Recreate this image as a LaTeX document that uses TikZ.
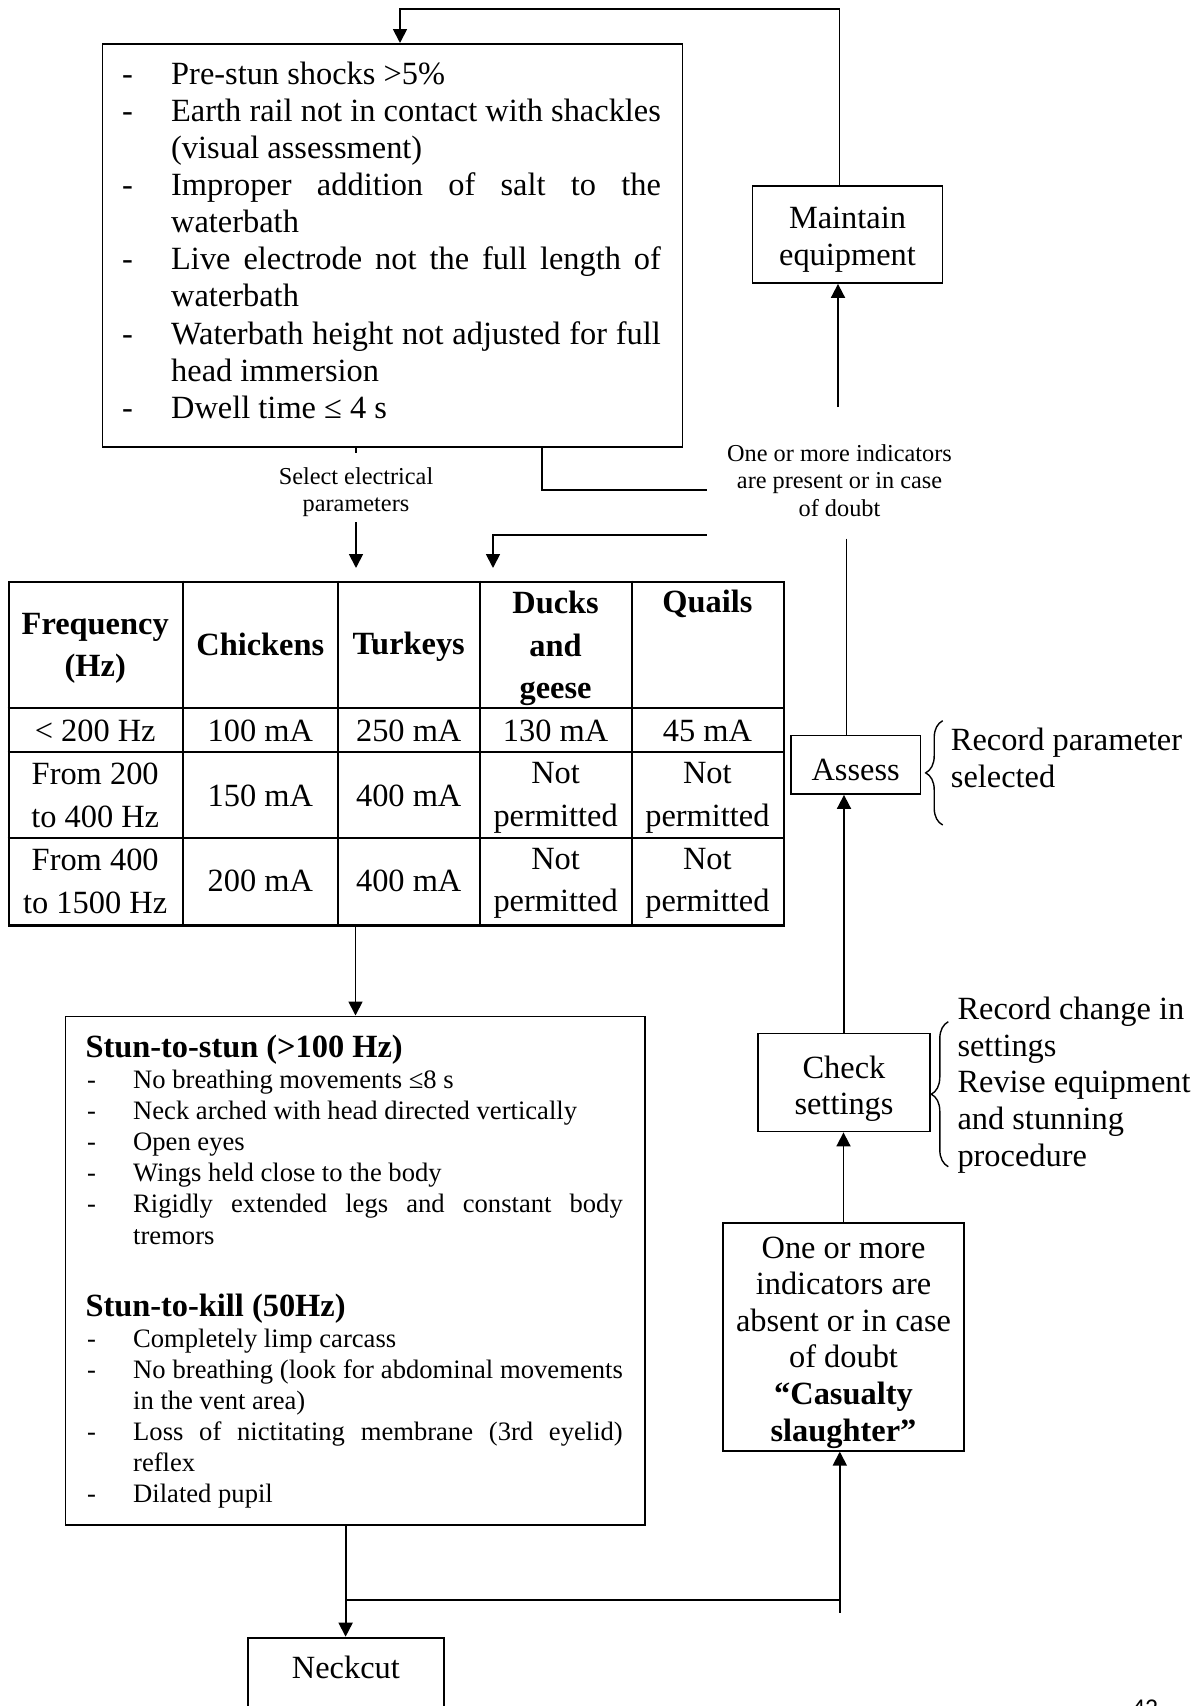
\documentclass[tikz,border=0pt]{standalone}
\usepackage{fontspec}
\setmainfont{Liberation Serif}
\newfontfamily\pgnumfont{Carlito}
\usetikzlibrary{arrows.meta,decorations.pathreplacing}
\newcommand\fbig{\fontsize{32.4}{37.2}\selectfont}
\newcommand\fmid{\fontsize{26.6}{31}\selectfont}
\newcommand\fsmall{\fontsize{24.3}{27.5}\selectfont}
\newcommand\fcell{\fontsize{32.4}{42.5}\selectfont}
\newcommand\jbig[1]{\makebox[489.7pt][s]{#1}}
\newcommand\jmid[1]{\makebox[489.6pt][s]{#1}}
\tikzset{
 conn/.style={line width=1.8pt},
 arr/.style={line width=1.8pt,-{Triangle[length=14pt,width=14pt]}},
 box/.style={draw,line width=1.8pt,inner sep=0pt},
 tb/.style={anchor=base west,inner sep=0pt,font=\fbig},
 tm/.style={anchor=base west,inner sep=0pt,font=\fmid},
 tmb/.style={anchor=base west,inner sep=0pt,font=\fbig\bfseries},
 cell/.style={align=center,inner sep=0pt,font=\fcell},
 hcell/.style={align=center,inner sep=0pt,font=\fcell\bfseries},
 brc/.style={decorate,decoration={brace,amplitude=17pt},line width=1.4pt},
 tline/.style={line width=2.2pt},
}
\begin{document}
\begin{tikzpicture}[x=1pt,y=-1pt]
\useasboundingbox (0,0) rectangle (1201,1706);
\fill[white] (0,0) rectangle (1201,1706);

% ---------- top box ----------
\node[box,anchor=north west,minimum width=580,minimum height=403] (cond) at (101.5,43) {};
\node[tb] (c1d) at (122,84) {-};
\node[tb] (c1) at (171,84) {Pre-stun shocks >5\%};
\node[tb] (c2d) at (122,121.15) {-};
\node[tb] (c2) at (171,121.15) {\jbig{Earth rail not in contact with shackles}};
\node[tb] (c3) at (171,158.3) {(visual assessment)};
\node[tb] (c4d) at (122,195.45) {-};
\node[tb] (c4) at (171,195.45) {\jbig{Improper addition of salt to the}};
\node[tb] (c5) at (171,232.6) {waterbath};
\node[tb] (c6d) at (122,269.75) {-};
\node[tb] (c6) at (171,269.75) {\jbig{Live electrode not the full length of}};
\node[tb] (c7) at (171,306.9) {waterbath};
\node[tb] (c8d) at (122,344.05) {-};
\node[tb] (c8) at (171,344.05) {\jbig{Waterbath height not adjusted for full}};
\node[tb] (c9) at (171,381.2) {head immersion};
\node[tb] (c10d) at (122,418.35) {-};
\node[tb] (c10) at (171,418.35) {Dwell time ≤ 4 s};

% ---------- maintain ----------
\node[box,minimum width=190,minimum height=97] (maint) at (847.5,234.5) {};
\node[align=center,inner sep=0pt,font=\fontsize{32.4}{37}\selectfont] (mainttxt) at (847.5,239.5) {Maintain\\equipment};
\coordinate (t1) at (839.5,9);
\coordinate (t2) at (400,9);
\draw[arr] (maint.north -| t1) -- (t1) -- (t2) -- (t2 |- cond.north);
\coordinate (m0) at (838,407);
\draw[arr] (m0) -- (m0 |- maint.south);

% ---------- indicators present ----------
\node[align=center,inner sep=0pt,font=\fsmall] (pres) at (839.5,480.4) {One or more indicators\\are present or in case\\of doubt};
\coordinate (l1) at (706.7,490);
\coordinate (l2) at (541.7,490);
\coordinate (l3) at (541.7,447.5);
\coordinate (l4) at (530.6,447.5);
\draw[conn] (l1) -- (l2) -- (l3) -- (l4);
\coordinate (k1) at (706.7,534.6);
\coordinate (k2) at (493,534.6);
\coordinate (k3) at (493,568);
\draw[arr] (k1) -- (k2) -- (k3);

% ---------- select ----------
\coordinate (s0) at (356,446);
\coordinate (s1) at (356,453);
\draw[conn] (s0) -- (s1);
\node[align=center,inner sep=0pt,font=\fsmall] (sel) at (356,492) {Select electrical\\parameters};
\coordinate (s2) at (356,522);
\coordinate (s3) at (356,568);
\draw[arr] (s2) -- (s3);

% ---------- table ----------
\node[draw,tline,inner sep=0pt,minimum width=775.5,minimum height=343.6,anchor=north west] (tbl) at (7.7,580.7) {};
\foreach \x in {182.7,337.8,479.6,631.6} \draw[tline] (\x,580.7) -- (\x,924.3);
\foreach \y in {708.3,752.3,838.3} \draw[tline] (7.7,\y) -- (783.2,\y);
\node[hcell] (h1) at (95.2,648.5) {Frequency\\(Hz)};
\node[hcell] (h2) at (260.3,644.5) {Chickens};
\node[hcell] (h3) at (408.7,646.5) {Turkeys};
\node[hcell] (h4) at (555.6,648.5) {Ducks\\and\\geese};
\node[hcell] (h5) at (707.4,604) {Quails};
\node[cell] (r11) at (95.2,730.5) {< 200 Hz};
\node[cell] (r12) at (260.3,730.5) {100 mA};
\node[cell] (r13) at (408.7,730.5) {250 mA};
\node[cell] (r14) at (555.6,730.5) {130 mA};
\node[cell] (r15) at (707.4,730.5) {45 mA};
\node[cell] (r21) at (95.2,795.5) {From 200\\to 400 Hz};
\node[cell] (r22) at (260.3,795.5) {150 mA};
\node[cell] (r23) at (408.7,795.5) {400 mA};
\node[cell] (r24) at (555.6,798) {Not\\permitted};
\node[cell] (r25) at (707.4,798) {Not\\permitted};
\node[cell] (r31) at (95.2,881.5) {From 400\\to 1500 Hz};
\node[cell] (r32) at (260.3,880.5) {200 mA};
\node[cell] (r33) at (408.7,880.5) {400 mA};
\node[cell] (r34) at (555.6,883.5) {Not\\permitted};
\node[cell] (r35) at (707.4,883.5) {Not\\permitted};

% ---------- stun box ----------
\node[box,anchor=north west,minimum width=579.7,minimum height=508.5] (stun) at (64.5,1015.5) {};
\coordinate (a0) at (355.5,924.3);
\draw[arr] (a0) -- (a0 |- stun.north);
\node[tmb] (sh1) at (85.3,1057) {Stun-to-stun (>100 Hz)};
\node[tm] (s1d) at (87,1088.5) {-};
\node[tm] (si1) at (133,1088.5) {No breathing movements ≤8 s};
\node[tm] (s2d) at (87,1119) {-};
\node[tm] (si2) at (133,1119) {Neck arched with head directed vertically};
\node[tm] (s3d) at (87,1150.5) {-};
\node[tm] (si3) at (133,1150.5) {Open eyes};
\node[tm] (s4d) at (87,1181) {-};
\node[tm] (si4) at (133,1181) {Wings held close to the body};
\node[tm] (s5d) at (87,1212.5) {-};
\node[tm] (si5) at (133,1212.5) {\jmid{Rigidly extended legs and constant body}};
\node[tm] (si6) at (133,1244) {tremors};
\node[tmb] (sh2) at (85.3,1316.8) {Stun-to-kill (50Hz)};
\node[tm] (k1d) at (87,1347.7) {-};
\node[tm] (ki1) at (133,1347.7) {Completely limp carcass};
\node[tm] (k2d) at (87,1378.5) {-};
\node[tm] (ki2) at (133,1378.5) {\jmid{No breathing (look for abdominal movements}};
\node[tm] (ki3) at (133,1409.7) {in the vent area)};
\node[tm] (k4d) at (87,1440.5) {-};
\node[tm] (ki4) at (133,1440.5) {\jmid{Loss of nictitating membrane (3rd eyelid)}};
\node[tm] (ki5) at (133,1471.7) {reflex};
\node[tm] (k6d) at (87,1502.5) {-};
\node[tm] (ki6) at (133,1502.5) {Dilated pupil};

% ---------- right column ----------
\node[box,minimum width=129.4,minimum height=58.6] (assess) at (855.7,764.7) {};
\node[inner sep=0pt,font=\fbig] (assesstxt) at (855.7,769.5) {Assess};
\coordinate (v1) at (846.4,538.6);
\draw[conn] (v1) -- (v1 |- assess.north);
\node[box,minimum width=172,minimum height=98] (check) at (844,1082.5) {};
\node[align=center,inner sep=0pt,font=\fontsize{32.4}{36}\selectfont] (checktxt) at (844,1088.5) {Check\\settings};
\draw[arr] (check.north) -- (check.north |- assess.south);
\node[box,minimum width=241.6,minimum height=228] (cas) at (843.5,1336.7) {};
\node[align=center,inner sep=0pt,font=\fontsize{32.4}{36.6}\selectfont] (castxt) at (843.5,1342.5) {One or more\\indicators are\\absent or in case\\of doubt\\\textbf{“Casualty}\\\textbf{slaughter”}};
\draw[arr] (cas.north) -- (cas.north |- check.south);

\draw[brc] (942.7,825) -- (942.7,720.7);
\node[align=left,anchor=west,inner sep=0pt,font=\fbig] (rec1) at (950.7,758) {Record parameter\\selected};
\draw[brc] (948.3,1166.7) -- (948.3,1021.7);
\node[align=left,anchor=west,inner sep=0pt,font=\fontsize{32.4}{36.6}\selectfont] (rec2) at (957.3,1085) {Record change in\\settings\\Revise equipment\\and stunning\\procedure};

% ---------- bottom ----------
\node[box,anchor=north,minimum width=196,minimum height=150] (neck) at (345.9,1636.7) {};
\node[inner sep=0pt,font=\fbig] (necktxt) at (345.9,1667.3) {Neckcut};
\coordinate (j1) at (345.6,1600);
\coordinate (j2) at (839.8,1600);
\coordinate (j3) at (839.8,1612.7);
\draw[arr] (j1 |- stun.south) -- (j1 |- neck.north);
\draw[conn] (j1) -- (j2);
\draw[arr] (j3) -- (j3 |- cas.south);

\node[anchor=base west,inner sep=0pt,font=\pgnumfont\fontsize{25.6}{30}\selectfont] (pg) at (1132,1716) {42};
\end{tikzpicture}
\end{document}
